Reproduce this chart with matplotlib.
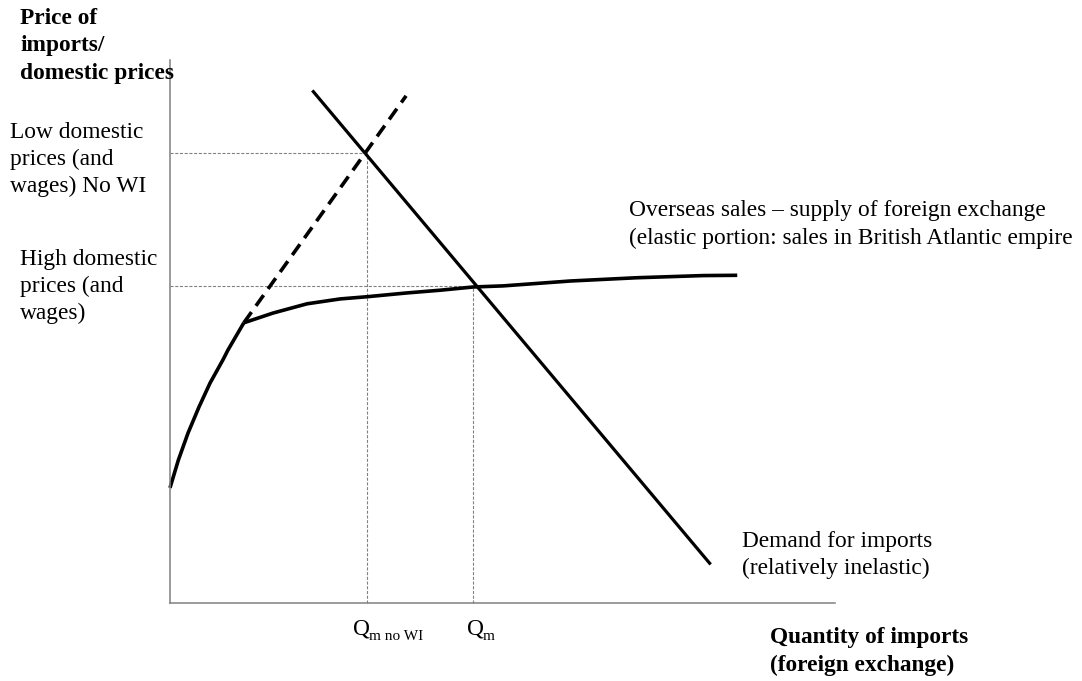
import matplotlib
matplotlib.use("Agg")
import matplotlib.pyplot as plt

plt.rcParams['font.family'] = ['Liberation Serif', 'DejaVu Serif']
plt.rcParams['lines.scale_dashes'] = False

# ---- data (quantity 0-100, price 0-100) ----
demand_q = [21.4, 81.3]
demand_p = [94.4, 7.1]
supply_low_q = [0.0, 1.25, 2.71, 4.36, 6.02, 7.97, 8.72, 11.1]
supply_low_p = [21.2, 26.3, 31.3, 36.1, 40.5, 44.8, 46.6, 51.6]
supply_high_q = [11.1, 15.5, 20.6, 25.6, 29.6, 35.6, 40.6, 45.6, 50.1, 60.2, 70.2, 80.2, 85.3]
supply_high_p = [51.6, 53.4, 55.1, 56.0, 56.4, 57.1, 57.6, 58.2, 58.4, 59.3, 59.9, 60.3, 60.35]
no_wi_q = [11.1, 35.5]
no_wi_p = [51.6, 93.4]
eq_q = [29.6, 45.6]          # Q_m no WI, Q_m
eq_p = [82.9, 58.4]          # low domestic prices, high domestic prices

W, H = 1082, 681
fig = plt.figure(figsize=(W / 100, H / 100), dpi=100)

def fx(x):
    return x / W

def fy(y):
    return 1 - y / H

ax = fig.add_axes([fx(170), fy(603), (835 - 170) / W, (603 - 60) / H])
ax.set_xlim(0, 100)
ax.set_ylim(0, 100)
ax.set_xticks([])
ax.set_yticks([])
for s in ['top', 'right']:
    ax.spines[s].set_visible(False)
for s in ['left', 'bottom']:
    ax.spines[s].set_color('#808080')
    ax.spines[s].set_linewidth(1.1)
ax.patch.set_alpha(0)

guide = dict(color='#808080', lw=0.8, ls=(0, (2.2, 1.2)), clip_on=False)
for q, p in zip(eq_q, eq_p):
    ax.plot([0, q], [p, p], **guide)
    ax.plot([q, q], [0, p], **guide)

ax.plot(demand_q, demand_p, color='black', lw=2.3, solid_capstyle='butt', clip_on=False)
ax.plot(supply_low_q, supply_low_p, color='black', lw=2.6, solid_capstyle='butt',
        solid_joinstyle='round', clip_on=False)
ax.plot(supply_high_q, supply_high_p, color='black', lw=2.6, solid_capstyle='butt',
        solid_joinstyle='round', clip_on=False)
ax.plot(no_wi_q, no_wi_p, color='black', lw=2.6, ls=(0, (9.5, 5.5)), clip_on=False)

fs = 16.8

def lines(x, baselines, strings, **kw):
    for b, s in zip(baselines, strings):
        fig.text(fx(x), fy(b), s, fontsize=kw.get('size', fs),
                 fontweight=kw.get('weight', 'normal'), va='baseline', ha='left')

lines(20, [23.5, 51.5, 79.5], ["Price of", "imports/", "domestic prices"], weight='bold')
lines(10, [138, 165, 192], ["Low domestic", "prices (and", "wages) No WI"])
lines(20, [265, 292, 319], ["High domestic", "prices (and", "wages)"])
lines(629, [216, 244], ["Overseas sales \u2013 supply of foreign exchange",
                        "(elastic portion: sales in British Atlantic empire"])
lines(742, [547, 574], ["Demand for imports", "(relatively inelastic)"])
lines(770, [643, 671], ["Quantity of imports", "(foreign exchange)"], weight='bold')

fig.text(fx(353), fy(634), "Q", fontsize=fs, va='baseline', ha='left')
fig.text(fx(369), fy(640), "m no WI", fontsize=11, va='baseline', ha='left')
fig.text(fx(467), fy(634), "Q", fontsize=fs, va='baseline', ha='left')
fig.text(fx(483), fy(640), "m", fontsize=11, va='baseline', ha='left')

fig.savefig("out.png", dpi=100)
